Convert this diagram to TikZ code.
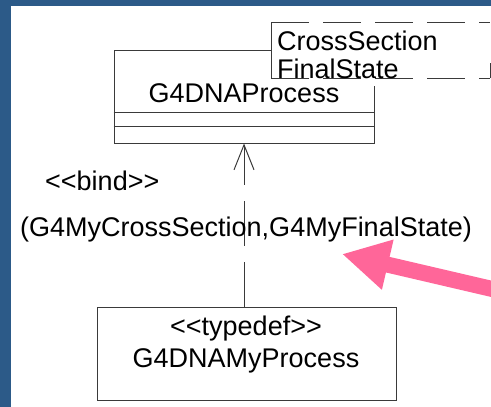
\documentclass[tikz,border=0pt]{standalone}
\usepackage{fontspec}
\setmainfont{Liberation Sans}
\usetikzlibrary{arrows.meta}
\definecolor{slideblue}{HTML}{2C5A88}
\definecolor{notepink}{HTML}{FF6699}
\definecolor{umlgray}{HTML}{3A3A3A}
\newcommand{\stereo}[1]{<\kern0pt<#1>\kern0pt>}
\tikzset{
  umltext/.style={font=\fontsize{27}{32}\selectfont, inner sep=0pt, text=black},
  umlline/.style={draw=umlgray, line width=1pt},
  classbox/.style={umlline, inner sep=0pt},
  templine/.style={umlline, dash pattern=on 38pt off 14pt},
  depline/.style={umlline, dash pattern=on 45pt off 16pt, -{Straight Barb[length=25pt,width=20pt]}},
  pointer/.style={draw=notepink, line width=16pt, -{Triangle[length=47pt,width=48pt]}}
}
\begin{document}
\begin{tikzpicture}[x=1pt, y=-1pt]
    \useasboundingbox (0,0) rectangle (491,407);
    \clip (0,0) rectangle (491,407);
    % slide frame
    \fill[slideblue] (0,0) rectangle (491,6);
    \fill[slideblue] (0,0) rectangle (11,407);
    % template class
    \node[classbox, minimum width=260pt, minimum height=93pt] (process) at (244,96.5) {};
    \draw[umlline] (process.west |- 0,112) -- (process.east |- 0,112);
    \draw[umlline] (process.west |- 0,126) -- (process.east |- 0,126);
    \node[umltext, anchor=base] (procname) at (244,102) {G4DNAProcess};
    % template parameters
    \fill[white] (271,22) rectangle (490,86);
    \draw[templine] (271,22) -- (490,22);
    \draw[templine] (271,78) -- (490,78);
    \draw[umlline, dash pattern=on 15pt off 60pt] (490,78) -- (490,22);
    \draw[umlline] (271,22) -- (271,78);
    \node[umltext, anchor=base west] (crossname) at (277,50) {CrossSection};
    \node[umltext, anchor=base west, fill=white] (finalname) at (277,78) {FinalState};
    % bound class
    \node[classbox, minimum width=299pt, minimum height=93pt] (typedef) at (246.5,353.5) {};
    \node[umltext, anchor=base] (typedeftag) at (246,335) {\stereo{typedef}};
    \node[umltext, anchor=base] (myname) at (246,367) {G4DNAMyProcess};
    % binding
    \draw[depline] (process.south |- typedef.north) -- (process.south);
    \node[umltext, anchor=base west] (bindtag) at (45,190) {\stereo{bind}};
    \node[umltext, anchor=base west] (bindargs) at (20,236) {(G4MyCrossSection,G4MyFinalState)};
    % pointer
    \coordinate (pointer tail) at (505,292);
    \coordinate (pointer tip) at (342,254);
    \draw[pointer] (pointer tail) -- (pointer tip);
\end{tikzpicture}
\end{document}
